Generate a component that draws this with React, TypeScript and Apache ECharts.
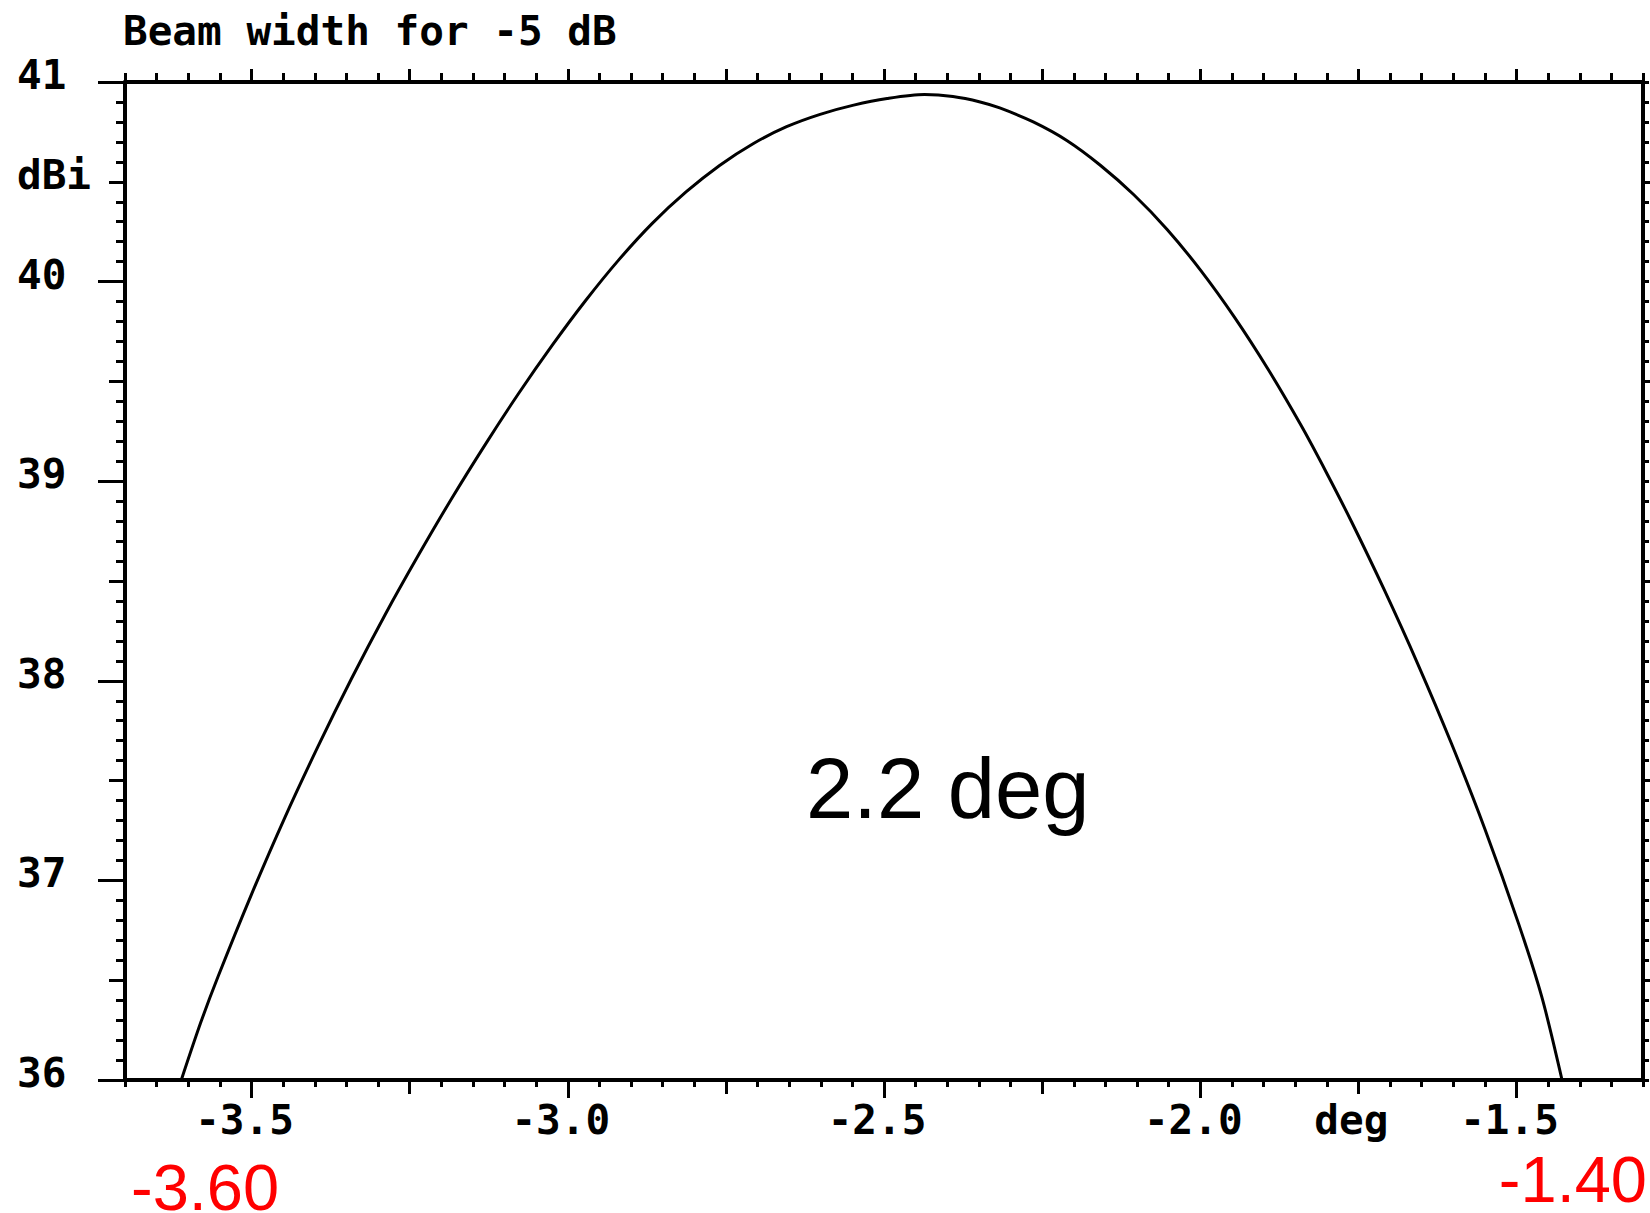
import React, { useEffect, useRef } from "react";
import * as echarts from "echarts";

// ---- data ----
const angleDeg = [
  -3.611, -3.58, -3.553, -3.5, -3.448, -3.395, -3.342, -3.289, -3.236, -3.183,
  -3.13, -3.078, -3.025, -2.972, -2.919, -2.866, -2.813, -2.76, -2.707, -2.654,
  -2.601, -2.548, -2.495, -2.436, -2.391, -2.348, -2.317, -2.264, -2.211, -2.158,
  -2.105, -2.052, -1.999, -1.946, -1.893, -1.84, -1.8, -1.761, -1.709, -1.656,
  -1.603, -1.55, -1.497, -1.46, -1.428,
];
const gainDbi = [
  36.0, 36.29, 36.517, 36.93, 37.31, 37.67, 38.01, 38.33, 38.63, 38.916,
  39.186, 39.438, 39.679, 39.904, 40.11, 40.293, 40.449, 40.582, 40.691, 40.776,
  40.838, 40.884, 40.917, 40.937, 40.927, 40.9, 40.87, 40.8, 40.707, 40.583,
  40.435, 40.26, 40.055, 39.822, 39.562, 39.276, 39.04, 38.798, 38.455, 38.084,
  37.687, 37.258, 36.786, 36.416, 36.0,
];

const xLabelValues = [-3.5, -3.0, -2.5, -2.0, -1.75, -1.5];
const xLabelTexts = ["-3.5", "-3.0", "-2.5", "-2.0", "deg", "-1.5"];
const xQuarterTicks = [-3.5, -3.25, -3.0, -2.75, -2.5, -2.25, -2.0, -1.75, -1.5];
const xHalfTicks = [-3.5, -3.0, -2.5, -2.0, -1.5];

const yLabelValues = [36, 37, 38, 39, 40, 40.5, 41];
const yLabelTexts = ["36", "37", "38", "39", "40", "dBi", "41"];
const yHalfTicks = [36.5, 37.5, 38.5, 39.5, 40.5];
const yIntTicks = [36, 37, 38, 39, 40, 41];

const titleText = "Beam width for -5 dB";
const crossingLabels = ["-3.60", "-1.40"];
const beamWidthLabel = "2.2 deg";

const X_MIN = -3.7;
const X_MAX = -1.3;
const Y_MIN = 36;
const Y_MAX = 41;

const MONO = '"DejaVu Sans Mono", "Liberation Mono", monospace';
const SANS = '"Liberation Sans", Arial, sans-serif';

function findLabel(values: number[], texts: string[], v: number): string {
  const i = values.findIndex((t) => Math.abs(t - v) < 1e-6);
  return i >= 0 ? texts[i] : "";
}

const lineStyle = { color: "#000", width: 4 };
const tickStyle = { color: "#000", width: 3 };

function xAxisDef(pos: "bottom" | "top", extra: any) {
  return {
    type: "value",
    position: pos,
    min: X_MIN,
    max: X_MAX,
    gridIndex: 0,
    splitLine: { show: false },
    axisLine: { show: false, onZero: false, lineStyle },
    axisLabel: { show: false },
    ...extra,
  };
}
function yAxisDef(pos: "left" | "right", extra: any) {
  return {
    type: "value",
    position: pos,
    min: Y_MIN,
    max: Y_MAX,
    gridIndex: 0,
    splitLine: { show: false },
    axisLine: { show: false, onZero: false, lineStyle },
    axisLabel: { show: false },
    ...extra,
  };
}

export default function App() {
  const ref = useRef<HTMLDivElement>(null);
  useEffect(() => {
    if (!ref.current) return;
    const chart = echarts.init(ref.current, undefined, { renderer: "svg" });
    const data = angleDeg.map((x, i) => [x, gainDbi[i]]);
    chart.setOption({
      animation: false,
      backgroundColor: "#fff",
      grid: { left: 125, right: 7, top: 82, bottom: 133, containLabel: false },
      xAxis: [
        xAxisDef("bottom", {
          interval: 0.05,
          axisLine: { show: true, onZero: false, lineStyle },
          axisTick: { show: true, length: 7, lineStyle: tickStyle },
        }),
        xAxisDef("bottom", {
          axisTick: { show: true, length: 14, lineStyle: tickStyle, customValues: xQuarterTicks },
        }),
        xAxisDef("bottom", {
          axisTick: { show: true, length: 18, lineStyle: tickStyle, customValues: xHalfTicks },
          axisLabel: {
            show: true,
            customValues: xLabelValues,
            formatter: (v: number) => findLabel(xLabelValues, xLabelTexts, v),
            fontFamily: MONO,
            fontWeight: "bold",
            fontSize: 41,
            lineHeight: 41,
            color: "#000",
            margin: 40,
            align: "center",
            verticalAlign: "middle",
            padding: [0, 14, 0, 0],
          },
        }),
        xAxisDef("top", {
          interval: 0.05,
          axisLine: { show: true, onZero: false, lineStyle },
          axisTick: { show: true, length: 9, lineStyle: tickStyle },
        }),
        xAxisDef("top", {
          axisTick: { show: true, length: 13, lineStyle: tickStyle, customValues: xQuarterTicks },
        }),
      ],
      yAxis: [
        yAxisDef("left", {
          interval: 0.1,
          axisLine: { show: true, onZero: false, lineStyle },
          axisTick: { show: true, length: 9, lineStyle: tickStyle },
        }),
        yAxisDef("left", {
          axisTick: { show: true, length: 16, lineStyle: tickStyle, customValues: yHalfTicks },
        }),
        yAxisDef("left", {
          axisTick: { show: true, length: 27, lineStyle: tickStyle, customValues: yIntTicks },
          axisLabel: {
            show: true,
            customValues: yLabelValues,
            formatter: (v: number) => findLabel(yLabelValues, yLabelTexts, v),
            fontFamily: MONO,
            fontWeight: "bold",
            fontSize: 41,
            lineHeight: 14,
            color: "#000",
            margin: 108,
            align: "left",
            verticalAlign: "bottom",
          },
        }),
        yAxisDef("right", {
          interval: 0.1,
          axisLine: { show: true, onZero: false, lineStyle },
          axisTick: { show: true, length: 6, lineStyle: tickStyle },
        }),
        yAxisDef("right", {
          axisTick: { show: true, length: 9, lineStyle: tickStyle, customValues: yHalfTicks },
        }),
      ],
      series: [
        {
          type: "line",
          xAxisIndex: 0,
          yAxisIndex: 0,
          data,
          showSymbol: false,
          smooth: 0.3,
          clip: true,
          lineStyle: { color: "#000", width: 3 },
          emphasis: { disabled: true },
        },
      ],
      graphic: [
        {
          type: "text",
          x: 123,
          y: 31,
          style: {
            text: titleText,
            font: `bold 41px ${MONO}`,
            fill: "#000",
            align: "left",
            verticalAlign: "middle",
            textAlign: "left",
            textVerticalAlign: "middle",
          },
        },
        {
          type: "text",
          x: 806,
          y: 788,
          style: {
            text: beamWidthLabel,
            font: `85px ${SANS}`,
            fill: "#000",
            align: "left",
            verticalAlign: "middle",
            textAlign: "left",
            textVerticalAlign: "middle",
          },
        },
        {
          type: "text",
          x: 131,
          y: 1187,
          style: {
            text: crossingLabels[0],
            font: `65px ${SANS}`,
            lineHeight: 44,
            fill: "#ff0000",
            align: "left",
            verticalAlign: "middle",
            textAlign: "left",
            textVerticalAlign: "middle",
          },
        },
        {
          type: "text",
          x: 1647,
          y: 1179,
          style: {
            text: crossingLabels[1],
            font: `65px ${SANS}`,
            lineHeight: 44,
            fill: "#ff0000",
            align: "right",
            verticalAlign: "middle",
            textAlign: "right",
            textVerticalAlign: "middle",
          },
        },
      ],
    });
    return () => chart.dispose();
  }, []);
  return (
    <div
      ref={ref}
      style={{ position: "absolute", left: 0, top: 0, width: 1650, height: 1213 }}
    />
  );
}
